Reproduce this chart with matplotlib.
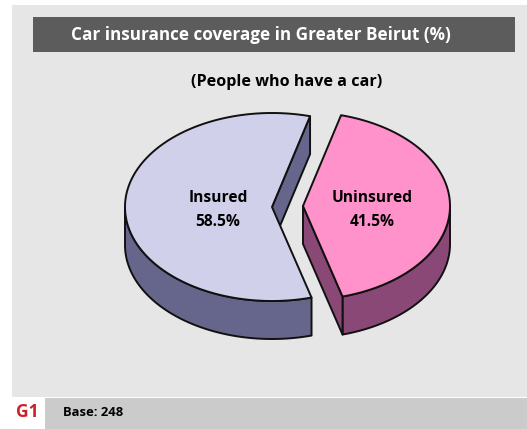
import numpy as np
import matplotlib
matplotlib.use("Agg")
import matplotlib.pyplot as plt
from matplotlib.patches import Polygon, Rectangle

# ---- data ----
categories = ["Insured", "Uninsured"]
values = [58.5, 41.5]
labels = ["Insured\n58.5%", "Uninsured\n41.5%"]
title = "Car insurance coverage in Greater Beirut (%)"
subtitle = "(People who have a car)"
footer_tag = "G1"
footer_text = "Base: 248"

top_colors = ["#d0d0ea", "#ff92cb"]
side_colors = ["#66668c", "#8a4877"]

W, H = 527, 429
fig = plt.figure(figsize=(W / 100, H / 100), dpi=100)
ax = fig.add_axes([0, 0, 1, 1])
ax.set_xlim(0, W)
ax.set_ylim(H, 0)
ax.axis("off")
fig.patch.set_facecolor("white")

FONT = "Open Sans"

# background panel
ax.add_patch(Rectangle((12, 5), W - 12, 392, facecolor="#e6e6e6", edgecolor="none"))
# title bar
ax.add_patch(Rectangle((33, 17), 482, 35, facecolor="#5c5c5c", edgecolor="none"))
ax.text(261, 35, title, color="white", fontsize=12.3, fontweight="bold",
        family=FONT, ha="center", va="center")
ax.text(287, 82, subtitle, color="black", fontsize=11.6, fontweight="bold",
        family=FONT, ha="center", va="center")

# footer
ax.add_patch(Rectangle((45, 398), W - 45, 31, facecolor="#cbcbcb", edgecolor="none"))
ax.text(27, 412, footer_tag, color="#c8232c", fontsize=12.5, fontweight="bold",
        family=FONT, ha="center", va="center")
ax.text(63, 412, footer_text, color="black", fontsize=9.4, fontweight="bold",
        family=FONT, ha="left", va="center")

# ---- 3D pie ----
rx, ry, depth = 147, 94, 38
start_angle = 75.0          # degrees, counterclockwise
centers = [(272, 207), (303, 206)]
label_pos = [(218, 210), (372, 210)]
line_gap = 25

total = float(sum(values))
angles = []
a = start_angle
for v in values:
    span = 360.0 * v / total
    angles.append((a, a + span))
    a += span


def pt(c, t, dz=0.0):
    return (c[0] + rx * np.cos(np.radians(t)), c[1] - ry * np.sin(np.radians(t)) + dz)


edge_kw = dict(edgecolor="#111111", linewidth=1.4, joinstyle="round")

for i, (t1, t2) in enumerate(angles):
    c = centers[i]
    ts = np.linspace(t1, t2, 400)
    # outer side wall: visible where sin(t) < 0 (front half)
    vis = np.sin(np.radians(ts)) <= 0
    if vis.any():
        tv = ts[vis]
        top = [pt(c, t) for t in tv]
        bot = [pt(c, t, depth) for t in tv[::-1]]
        ax.add_patch(Polygon(top + bot, closed=True, facecolor=side_colors[i], **edge_kw))
    # radial faces
    for t, sign in ((t1, -1), (t2, 1)):
        normal = t + sign * 90
        if np.sin(np.radians(normal)) < 0:
            p = pt(c, t)
            poly = [c, p, (p[0], p[1] + depth), (c[0], c[1] + depth)]
            ax.add_patch(Polygon(poly, closed=True, facecolor=side_colors[i], **edge_kw))
    # top face
    arc = [pt(c, t) for t in ts]
    ax.add_patch(Polygon([c] + arc, closed=True, facecolor=top_colors[i], **edge_kw))
    lines = labels[i].split("\n")
    for k, line in enumerate(lines):
        y = label_pos[i][1] + (k - (len(lines) - 1) / 2) * line_gap
        ax.text(label_pos[i][0], y, line, color="black", fontsize=11.2,
                fontweight="bold", family=FONT, ha="center", va="center")

fig.savefig("out.png", dpi=100)
